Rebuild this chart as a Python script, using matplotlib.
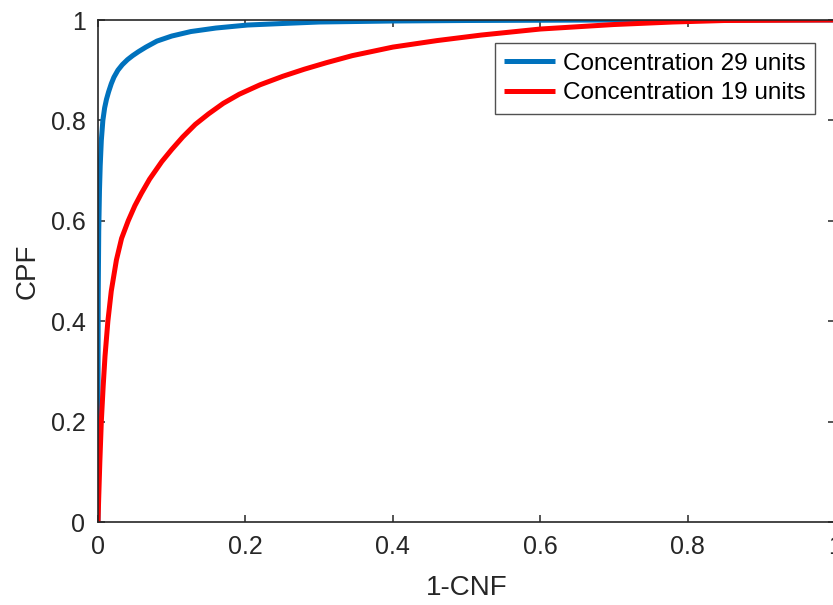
import matplotlib.pyplot as plt

plt.rcParams['font.family'] = ['Liberation Sans', 'DejaVu Sans']

# curva CPF vs 1-CNF para cada concentracion
x_29 = [0, 0, 0.0003, 0.001, 0.002, 0.003, 0.0045, 0.0066, 0.009, 0.0115,
        0.0144, 0.018, 0.0216, 0.027, 0.033, 0.04, 0.047, 0.055, 0.065,
        0.08, 0.1, 0.126, 0.16, 0.203, 0.25, 0.3, 0.4, 0.5, 0.7, 1.0]
y_29 = [0, 0.25, 0.45, 0.58, 0.66, 0.71, 0.76, 0.80, 0.825, 0.842,
        0.857, 0.873, 0.886, 0.90, 0.911, 0.921, 0.929, 0.937, 0.946,
        0.958, 0.968, 0.977, 0.984, 0.99, 0.993, 0.996, 0.998, 0.999, 1.0, 1.0]

x_19 = [0, 0.001, 0.0025, 0.0045, 0.007, 0.0095, 0.0134, 0.018, 0.025, 0.032,
        0.041, 0.05, 0.059, 0.07, 0.0866, 0.1, 0.115, 0.132, 0.15, 0.17,
        0.1915, 0.22, 0.251, 0.28, 0.31, 0.345, 0.4, 0.46, 0.52, 0.6, 0.7,
        0.78, 0.85, 1.0]
y_19 = [0, 0.05, 0.12, 0.20, 0.27, 0.33, 0.40, 0.46, 0.522, 0.565,
        0.60, 0.63, 0.655, 0.683, 0.718, 0.742, 0.767, 0.792, 0.813, 0.834,
        0.852, 0.871, 0.888, 0.902, 0.915, 0.929, 0.946, 0.959, 0.970, 0.982,
        0.991, 0.996, 0.999, 1.0]

etiquetas = ['Concentration 29 units', 'Concentration 19 units']

fig = plt.figure(figsize=(8.33, 6.05), dpi=100)
ax = fig.add_axes([98 / 833, 83 / 605, 737 / 833, 502 / 605])

ax.plot(x_29, y_29, color='#0072BD', linewidth=3.6, label=etiquetas[0],
        solid_capstyle='butt', solid_joinstyle='round')
ax.plot(x_19, y_19, color='#FF0000', linewidth=3.6, label=etiquetas[1],
        solid_capstyle='butt', solid_joinstyle='round')

ax.set_xlim(0, 1)
ax.set_ylim(0, 1)
ax.set_xticks([0, 0.2, 0.4, 0.6, 0.8, 1])
ax.set_xticklabels(['0', '0.2', '0.4', '0.6', '0.8', '1'])
ax.set_yticks([0, 0.2, 0.4, 0.6, 0.8, 1])
ax.set_yticklabels(['0', '0.2', '0.4', '0.6', '0.8', '1'])

gris = '#262626'
for s in ax.spines.values():
    s.set_color(gris)
    s.set_linewidth(1.2)
ax.tick_params(direction='in', top=True, right=True, length=5, width=1.1,
               colors=gris, labelsize=18, pad=9)

ax.set_xlabel('1-CNF', fontsize=20, color=gris, labelpad=12)
ax.set_ylabel('CPF', fontsize=20, color=gris, labelpad=7)

leg = ax.legend(loc='upper right', bbox_to_anchor=(0.973, 0.954),
                fontsize=17.5, frameon=True, fancybox=False,
                handlelength=2.1, handletextpad=0.3, labelspacing=0.3,
                borderpad=0.4, borderaxespad=0)
leg.get_frame().set_edgecolor(gris)
leg.get_frame().set_linewidth(1.0)

plt.savefig('out.png', dpi=100)
